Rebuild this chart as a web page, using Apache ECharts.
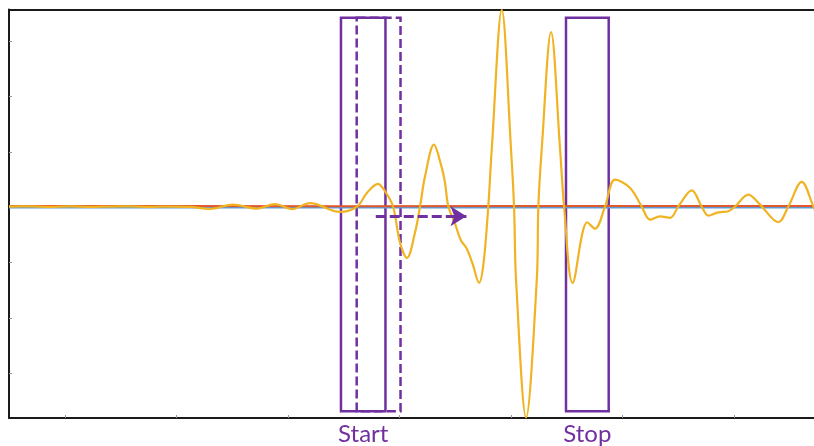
<!DOCTYPE html>
<html>
<head>
<meta charset="utf-8">
<script src="https://cdn.jsdelivr.net/npm/echarts@6/dist/echarts.min.js"></script>
<style>
html,body{margin:0;padding:0;background:#fff;}
#c{width:814px;height:446px;}
</style>
</head>
<body>
<div id="c"></div>
<script>
// ---- data ----
const xTicks = [0, 100, 200, 300, 400, 500, 600];
const yTicks = [-3, -2, -1, 0, 1, 2, 3];
const markerNames = ['Start', 'Stop'];
const markerCenters = [267.5, 468.4];

// yellow trace [time, value]
const yellowTrace = [
  [-50.2, 0.01], [-31.4, 0.013], [-13.5, 0.004], [4.5, 0.013], [22.4, 0.004],
  [40.4, 0.01], [58.3, 0.013], [76.2, 0.004], [94.2, 0.01], [112.1, 0.004],
  [130.0, -0.032], [150.7, 0.045], [172.2, -0.027], [188.3, 0.054], [203.6, -0.036],
  [219.7, 0.072], [246.6, -0.087], [261.9, 0.01], [270.9, 0.26], [280.7, 0.42],
  [287.0, 0.285], [294.2, 0.01], [300.4, -0.64], [306.7, -0.917], [313.9, -0.46],
  [318.4, 0.01], [322.9, 0.556], [330.9, 1.128], [337.2, 0.767], [340.8, 0.442],
  [343.8, 0.01], [349.8, -0.3], [355.0, -0.6], [360.0, -0.74], [365.5, -1.02],
  [371.3, -1.368], [375.2, -1.04], [379.6, 0.01], [382.7, 1.04], [391.7, 3.565],
  [400.0, 1.04], [402.7, 0.01], [404.5, -1.31], [413.5, -3.80], [423.1, -1.31],
  [424.5, 0.01], [427.5, 1.04], [435.9, 3.16], [444.0, 1.04], [447.6, 0.01],
  [455.3, -1.368], [468.4, -0.274], [475.3, -0.39], [484.3, 0.01], [493.3, 0.496],
  [506.8, 0.347], [517.2, 0.01], [524.7, -0.226], [533.6, -0.166], [542.6, -0.195],
  [550.0, 0.01], [562.1, 0.303], [571.0, 0.01], [577.0, -0.153], [585.9, -0.094],
  [594.9, -0.076], [600.9, 0.01], [612.8, 0.226], [623.3, 0.045], [639.7, -0.274],
  [648.7, 0.01], [660.7, 0.455], [671.1, 0.014], [677.1, -0.25]
];
const flatTimes = [-50.2, 100, 250, 400, 550, 672];
const redValues = [0.018, 0.02, 0.017, 0.019, 0.018, 0.018];
const blueValues = [-0.009, -0.009, -0.009, -0.009, -0.009, -0.009];

// windows [t0, t1], vertical extent
const startWindow = [247.5, 287.4];
const shiftedWindow = [261.6, 300.9];
const stopWindow = [449.3, 487.6];
const windowTop = 3.42, windowBottom = -3.69;
const arrowFrom = [278.7, -0.166];
const arrowTo = [360.0, -0.166];

// ---- chart ----
const purple = '#7030A0';
const chart = echarts.init(document.getElementById('c'));
const zip = (t, v) => t.map((x, i) => [x, v[i]]);
const xMin = -50.2, xMax = 671.7, yMin = -3.81, yMax = 3.57;

chart.setOption({
  animation: false,
  grid: { left: 9, right: 0, top: 9.5, bottom: 27.5, containLabel: false },
  xAxis: [{
    type: 'value', min: xMin, max: xMax, position: 'bottom',
    axisLine: { show: true, onZero: false, lineStyle: { color: '#1a1a1a', width: 2 } },
    axisTick: { show: true, inside: true, length: 3, customValues: xTicks, lineStyle: { color: '#999' } },
    axisLabel: {
      show: true, customValues: markerCenters,
      formatter: function (v) {
        let best = 0;
        markerCenters.forEach((c, i) => { if (Math.abs(c - v) < Math.abs(markerCenters[best] - v)) best = i; });
        return markerNames[best];
      },
      color: purple, fontSize: 24, fontFamily: 'Lato', margin: 4
    },
    splitLine: { show: false }
  }, {
    type: 'value', min: xMin, max: xMax, position: 'top',
    axisLine: { show: true, onZero: false, lineStyle: { color: '#1a1a1a', width: 2 } },
    axisTick: { show: false }, axisLabel: { show: false }, splitLine: { show: false }
  }],
  yAxis: {
    type: 'value', min: yMin, max: yMax,
    axisLine: { show: true, onZero: false, lineStyle: { color: '#1a1a1a', width: 2 } },
    axisTick: { show: true, inside: true, length: 3, customValues: yTicks, lineStyle: { color: '#999' } },
    axisLabel: { show: false }, splitLine: { show: false }
  },
  series: [
    { type: 'line', data: zip(flatTimes, blueValues), showSymbol: false, lineStyle: { color: '#5B9BD5', width: 1.6 }, z: 2 },
    { type: 'line', data: zip(flatTimes, redValues), showSymbol: false, lineStyle: { color: '#E2582C', width: 2 }, z: 3 },
    { type: 'line', data: yellowTrace, showSymbol: false, smooth: 0.35, lineStyle: { color: '#F0B323', width: 2.2 }, z: 4 },
    {
      type: 'line', data: [], z: 6,
      markArea: {
        silent: true,
        data: [
          [{ coord: [startWindow[0], windowTop], itemStyle: { color: 'rgba(0,0,0,0)', borderColor: purple, borderWidth: 2.5 } },
           { coord: [startWindow[1], windowBottom] }],
          [{ coord: [shiftedWindow[0], windowTop], itemStyle: { color: 'rgba(0,0,0,0)', borderColor: purple, borderWidth: 2.5, borderType: [9, 4] } },
           { coord: [shiftedWindow[1], windowBottom] }],
          [{ coord: [stopWindow[0], windowTop], itemStyle: { color: 'rgba(0,0,0,0)', borderColor: purple, borderWidth: 2.5 } },
           { coord: [stopWindow[1], windowBottom] }]
        ]
      },
      markLine: {
        silent: true, symbol: ['none', 'arrow'], symbolSize: [15, 16],
        label: { show: false },
        lineStyle: { color: purple, width: 3, type: [10, 4] },
        data: [[{ coord: arrowFrom }, { coord: arrowTo }]]
      }
    }
  ]
});
</script>
</body>
</html>
